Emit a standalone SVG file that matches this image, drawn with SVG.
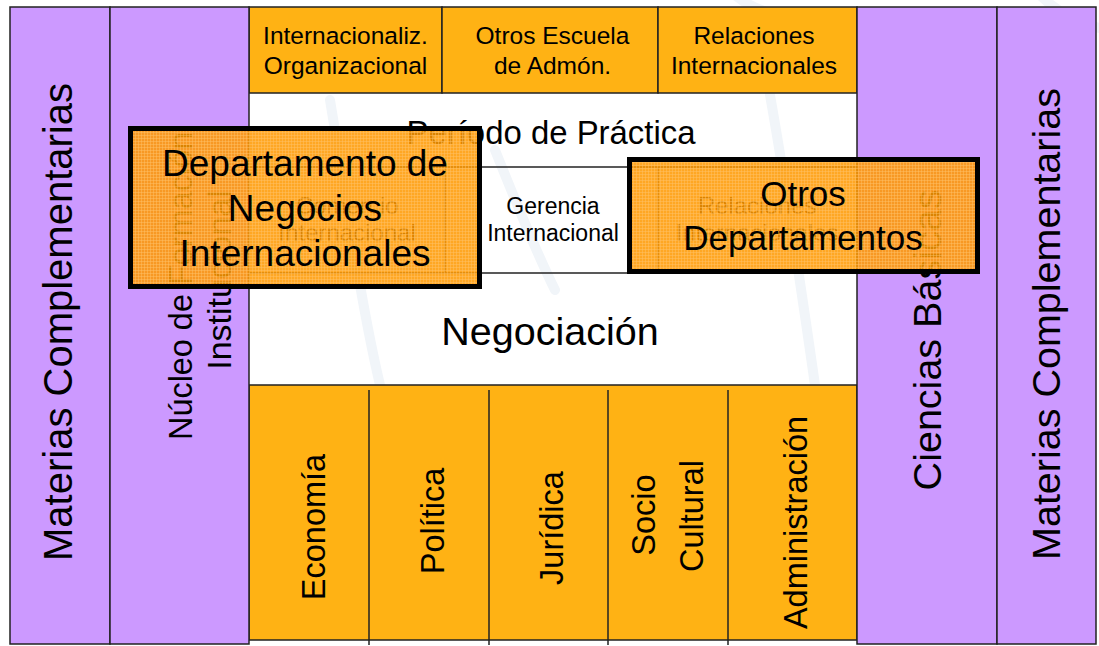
<svg xmlns="http://www.w3.org/2000/svg" width="1099" height="646" viewBox="0 0 1099 646">
<defs>
<style>
.pu{fill:#CC99FF;stroke:#222;stroke-width:1.5}
.or{fill:#FFB214;stroke:#222;stroke-width:1.5}
.ln{stroke:#222;stroke-width:1.5;fill:none}
.wm{stroke:#F1F5F9;stroke-width:10;fill:none;stroke-linecap:round}
.t{font-family:"Liberation Sans",Arial,Helvetica,sans-serif;fill:#000;text-anchor:middle}
.ov{fill:#FF9900;fill-opacity:0.86;stroke:none}
.ovb{fill:none;stroke:#000;stroke-width:5}
.dz{fill:url(#dither)}
</style>
<pattern id="dither" width="3" height="3" patternUnits="userSpaceOnUse">
<rect x="0" y="0" width="3" height="1" fill="#FFC46A" fill-opacity="0.45"/>
<rect x="0" y="0" width="1" height="3" fill="#FFC46A" fill-opacity="0.45"/>
</pattern>
</defs>
<rect x="0" y="0" width="1099" height="646" fill="#FFFFFF"/>
<g id="watermark">
<path class="wm" d="M735 -5 C 750 8, 775 16, 800 20"/>
<path class="wm" d="M1040 -5 C 1055 10, 1075 22, 1099 28"/>
<path class="wm" d="M975 60 C 990 80, 1010 95, 1030 100"/>
<path class="wm" d="M330 100 C 345 190, 360 300, 380 385"/>
<path class="wm" d="M495 150 C 515 200, 535 250, 555 290"/>
<path class="wm" d="M770 95 C 785 180, 800 280, 815 385"/>
</g>
<g id="connectors"></g>
<g id="n-hdr-intl-org">
<rect class="or" x="249" y="7" width="193" height="86"/>
<text class="t" x="345.5" y="44" font-size="24.5">Internacionaliz.</text>
<text class="t" x="345.5" y="74" font-size="24.5">Organizacional</text>
</g>
<g id="n-hdr-otros-escuela">
<rect class="or" x="442" y="7" width="216" height="86"/>
<text class="t" x="552.5" y="44" font-size="24.5">Otros Escuela</text>
<text class="t" x="552.5" y="74" font-size="24.5">de Admón.</text>
</g>
<g id="n-hdr-relaciones">
<rect class="or" x="658" y="7" width="199" height="86"/>
<text class="t" x="754" y="44" font-size="24.5">Relaciones</text>
<text class="t" x="754" y="74" font-size="24.5">Internacionales</text>
</g>
<g id="n-periodo">
<line class="ln" x1="249" y1="167" x2="857" y2="167"/>
<text class="t" x="551" y="144" font-size="34" textLength="289" lengthAdjust="spacingAndGlyphs">Período de Práctica</text>
</g>
<g id="n-comercio">
<line class="ln" x1="445" y1="167" x2="445" y2="273"/>
<text class="t" x="347" y="214" font-size="24">Comercio</text>
<text class="t" x="347" y="241" font-size="24">Internacional</text>
</g>
<g id="n-gerencia">
<text class="t" x="553" y="214" font-size="23">Gerencia</text>
<text class="t" x="553" y="241" font-size="23">Internacional</text>
</g>
<g id="n-relaciones-mid">
<line class="ln" x1="658" y1="167" x2="658" y2="273"/>
<text class="t" x="757" y="214" font-size="24">Relaciones</text>
<text class="t" x="757" y="241" font-size="24">Internacionales</text>
</g>
<g id="n-negociacion">
<line class="ln" x1="249" y1="273" x2="857" y2="273"/>
<text class="t" x="550" y="345" font-size="39.5">Negociación</text>
</g>
<g id="n-bottom-frame">
<rect class="or" x="249" y="385" width="608" height="255"/>
<line class="ln" x1="369" y1="390" x2="369" y2="645"/>
<line class="ln" x1="489" y1="390" x2="489" y2="645"/>
<line class="ln" x1="608" y1="390" x2="608" y2="645"/>
<line class="ln" x1="728" y1="390" x2="728" y2="645"/>
</g>
<g id="n-economia">
<text class="t" font-size="32.5" transform="translate(325 527) rotate(-90)">Economía</text>
</g>
<g id="n-politica">
<text class="t" font-size="32.5" transform="translate(443.5 521) rotate(-90)">Política</text>
</g>
<g id="n-juridica">
<text class="t" font-size="32.5" transform="translate(562.5 528) rotate(-90)">Jurídica</text>
</g>
<g id="n-sociocultural">
<text class="t" font-size="32.5" transform="translate(654.5 515) rotate(-90)">Socio</text>
<text class="t" font-size="32.5" transform="translate(703 516) rotate(-90)">Cultural</text>
</g>
<g id="n-administracion">
<text class="t" font-size="32.5" transform="translate(806.5 522.5) rotate(-90)">Administración</text>
</g>
<g id="n-materias-left">
<rect class="pu" x="10" y="7" width="100" height="637"/>
<text class="t" font-size="40" transform="translate(72 322) rotate(-90)">Materias Complementarias</text>
</g>
<g id="n-nucleo">
<rect class="pu" x="110" y="7" width="139" height="637"/>
<text class="t" font-size="34" textLength="308" lengthAdjust="spacingAndGlyphs" transform="translate(191.5 286) rotate(-90)">Núcleo de Formación</text>
<text class="t" font-size="34" transform="translate(230.5 280) rotate(-90)">Institucional</text>
</g>
<g id="n-ciencias">
<rect class="pu" x="857" y="7" width="140" height="637"/>
<text class="t" font-size="39.5" transform="translate(940.5 340) rotate(-90)">Ciencias Básicas</text>
</g>
<g id="n-materias-right">
<rect class="pu" x="997" y="7" width="99" height="637"/>
<text class="t" font-size="39.5" transform="translate(1060 324) rotate(-90)">Materias Complementarias</text>
</g>
<g id="n-dept-negocios">
<rect class="ov" x="130.5" y="128.5" width="349" height="158"/>
<rect class="dz" x="130.5" y="128.5" width="349" height="158"/>
<rect class="ovb" x="130.5" y="128.5" width="349" height="158"/>
<text class="t" x="305" y="176" font-size="37">Departamento de</text>
<text class="t" x="305" y="221" font-size="37">Negocios</text>
<text class="t" x="305" y="266" font-size="37">Internacionales</text>
</g>
<g id="n-otros-dept">
<rect class="ov" x="629.5" y="159.5" width="348" height="112"/>
<rect class="dz" x="629.5" y="159.5" width="348" height="112"/>
<rect class="ovb" x="629.5" y="159.5" width="348" height="112"/>
<text class="t" x="803" y="206" font-size="35">Otros</text>
<text class="t" x="803" y="250" font-size="35">Departamentos</text>
</g>
</svg>
